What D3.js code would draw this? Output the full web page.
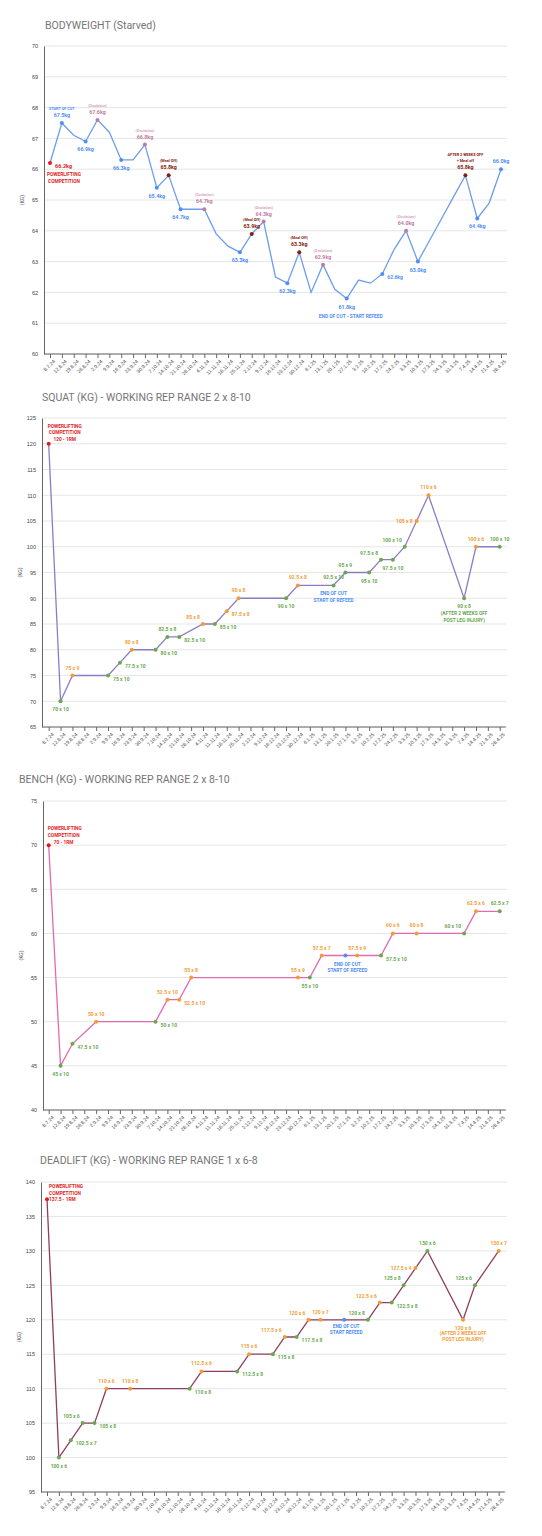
<!DOCTYPE html>
<html><head><meta charset="utf-8">
<script src="https://cdn.jsdelivr.net/npm/d3@7"></script>
<style>body{margin:0;background:#fff;font-family:Roboto,Arial,sans-serif}</style>
</head><body><svg id="c" width="542" height="1536"></svg>
<script>
// dates on the x axis (same weekly categories for every panel)
const dates = ["8.7.24","12.8.24","19.8.24","26.8.24","2.9.24","9.9.24","16.9.24","23.9.24","30.9.24","7.10.24","14.10.24","21.10.24","28.10.24","4.11.24","11.11.24","18.11.24","25.11.24","2.12.24","9.12.24","16.12.24","23.12.24","30.12.24","6.1.25","13.1.25","20.1.25","27.1.25","3.2.25","10.2.25","17.2.25","24.2.25","3.3.25","10.3.25","17.3.25","24.3.25","31.3.25","7.4.25","14.4.25","21.4.25","28.4.25"];

// bodyweight (kg)
const bwValues = [66.2,67.5,67.1,66.9,67.6,67.2,66.3,66.3,66.8,65.4,65.8,64.7,64.7,64.7,63.9,63.5,63.3,63.9,64.3,62.5,62.3,63.3,62.0,62.9,62.1,61.8,62.4,62.3,62.6,63.4,64.0,63.0,63.7,64.4,65.1,65.8,64.4,64.9,66.0];
// point type: r=competition, b=normal, p=ovulation, m=meal off, null=no marker
const bwTypes = ["r","b",null,"b","p",null,"b",null,"p","b","m","b",null,"p",null,null,"b","m","p",null,"b","m",null,"p",null,"b",null,null,"b",null,"p","b",null,null,null,"m","b",null,"b"];
const bwTags = [null,"START OF CUT",null,null,"(Ovulation)",null,null,null,"(Ovulation)",null,"(Meal Off)",null,null,"(Ovulation)",null,null,null,"(Meal Off)","(Ovulation)",null,null,"(Meal Off)",null,"(Ovulation)",null,null,null,null,null,null,"(Ovulation)",null,null,null,null,"AFTER 2 WEEKS OFF|+ Meal off",null,null,null];

// squat
const squatValues = [120,70,75,null,null,75,77.5,80,null,80,82.5,82.5,null,85,85,87.5,90,null,null,null,90,92.5,null,null,92.5,95,null,95,97.5,97.5,100,105,110,null,null,90,100,null,100];
const squatReps = ["1RM",10,9,null,null,10,10,8,null,10,8,10,null,8,10,8,8,null,null,null,10,8,null,null,10,9,null,10,8,10,10,8,6,null,null,8,6,null,10];
const squatTypes = ["r","g","o",null,null,"g","g","o",null,"g","g","g",null,"o","g","o","o",null,null,null,"g","o",null,null,"g","g",null,"g","g","g","g","o","o",null,null,"g","o",null,"g"];
const squatPlace = ["n","b","a",null,null,"r","r","a",null,"r","a","r",null,"al","r","r","a",null,null,null,"b","a",null,null,"a","a",null,"b","al","b","al","l","a",null,null,"b","a",null,"a"];

// bench
const benchValues = [70,45,47.5,null,50,null,null,null,null,50,52.5,52.5,55,null,null,null,null,null,null,null,null,55,55,57.5,null,57.5,57.5,null,57.5,60,null,60,null,null,null,60,62.5,null,62.5];
const benchReps = ["1RM",10,10,null,10,null,null,null,null,10,10,10,8,null,null,null,null,null,null,null,null,9,10,7,null,"",9,null,10,6,null,8,null,null,null,10,6,null,7];
const benchTypes = ["r","g","g",null,"o",null,null,null,null,"g","o","o","o",null,null,null,null,null,null,null,null,"o","g","o",null,"c","o",null,"g","o",null,"o",null,null,null,"g","o",null,"g"];
const benchPlace = ["n","b","r",null,"a",null,null,null,null,"r","a","r","a",null,null,null,null,null,null,null,null,"a","b","a",null,"-","a",null,"r","a",null,"a",null,null,null,"al","a",null,"a"];

// deadlift
const deadValues = [137.5,100,102.5,105,105,110,null,110,null,null,null,null,110,112.5,null,null,112.5,115,null,115,117.5,117.5,120,120,null,120,null,120,122.5,122.5,125,127.5,130,null,null,120,125,null,130];
const deadReps = ["1RM",6,7,6,8,6,null,8,null,null,null,null,8,6,null,null,8,6,null,8,6,8,6,7,null,"",null,8,6,8,8,4,6,null,null,6,6,null,7];
const deadTypes = ["r","g","g","g","g","o",null,"o",null,null,null,null,"g","o",null,null,"g","o",null,"g","o","g","o","o",null,"c",null,"g","o","g","g","o","g",null,null,"o","g",null,"o"];
const deadPlace = ["n","b","r","al","r","a",null,"a",null,null,null,null,"r","a",null,null,"r","a",null,"r","al","r","al","a",null,"-",null,"al","al","r","al","l","a",null,null,"b","al",null,"a"];

const typeColor = {r:"#e31a1c",b:"#4f8ef7",p:"#c27ba0",m:"#85200c",g:"#6aa84f",o:"#f39c34",c:"#4f8ef7"};
const svg = d3.select("#c");

function panel(cfg) {
    const g = svg.append("g");
    const x = d3.scalePoint().domain(dates).range([cfg.x0, cfg.x1]);
    const y = d3.scaleLinear().domain(cfg.domain).range([cfg.bottom, cfg.top]);

    g.append("text").attr("x", cfg.titleX).attr("y", cfg.titleY).attr("fill", "#757575")
        .attr("font-size", 10.5).text(cfg.title);

    // gridlines
    const ticks = d3.range(cfg.domain[0], cfg.domain[1] + 0.001, cfg.step);
    g.selectAll(".grid").data(ticks).join("line")
        .attr("x1", cfg.axisX).attr("x2", 507).attr("y1", d => y(d)).attr("y2", d => y(d))
        .attr("stroke", "#e6e6e6").attr("stroke-width", 1);

    g.append("g").attr("transform", `translate(${cfg.axisX},0)`)
        .call(d3.axisLeft(y).tickValues(ticks).tickSize(0).tickPadding(6))
        .call(a => a.select(".domain").attr("stroke", "#666"))
        .selectAll("text").attr("font-size", 5.5).attr("fill", "#444");

    const xa = g.append("g").attr("transform", `translate(0,${cfg.bottom})`)
        .call(d3.axisBottom(x).tickSize(4).tickPadding(3));
    xa.select(".domain").attr("stroke", "#666").attr("d", `M${cfg.axisX},0H${cfg.x1 + 6}`);
    xa.selectAll("line").attr("stroke", "#666");
    xa.selectAll("text").attr("font-size", 5).attr("fill", "#444")
        .attr("text-anchor", "end").attr("transform", "rotate(-45)").attr("dx", "-2").attr("dy", "2");

    g.append("text").attr("transform", `translate(${cfg.axisX - 20},${(cfg.top + cfg.bottom) / 2}) rotate(-90)`)
        .attr("text-anchor", "middle").attr("font-size", 5).attr("fill", "#444").text("(KG)");

    const pts = cfg.values.map((v, i) => ({v, i, d: dates[i]})).filter(p => p.v != null);
    g.append("path").datum(pts)
        .attr("d", d3.line().x(p => x(p.d)).y(p => y(p.v)))
        .attr("fill", "none").attr("stroke", cfg.lineColor).attr("stroke-width", 1.3);

    const marked = pts.filter(p => cfg.types[p.i]);
    g.selectAll(".dot").data(marked).join("circle")
        .attr("cx", p => x(p.d)).attr("cy", p => y(p.v)).attr("r", 2)
        .attr("fill", p => typeColor[cfg.types[p.i]]);

    marked.forEach(p => {
        const lbl = cfg.label(p);
        if (!lbl) return;
        const px = x(p.d), py = y(p.v), col = typeColor[cfg.types[p.i]];
        const pl = cfg.place ? cfg.place[p.i] : (lbl.place || "a");
        let tx = px, ty = py - 6, anc = "middle";
        if (pl === "b") ty = py + 10;
        if (pl === "r") { tx = px + 5; ty = py + 5; anc = "start"; }
        if (pl === "al") { tx = px - 3; ty = py - 5; anc = "end"; }
        if (pl === "l") { tx = px - 4; ty = py + 2; anc = "end"; }
        if (pl === "n") return;
        g.append("text").attr("x", tx).attr("y", ty).attr("text-anchor", anc)
            .attr("font-size", lbl.size || 5).attr("font-weight", "bold").attr("fill", col).text(lbl.text);
        if (lbl.tag) {
            lbl.tag.split("|").reverse().forEach((t, k) => {
                g.append("text").attr("x", tx).attr("y", ty - 7 - k * 6).attr("text-anchor", anc)
                    .attr("font-size", 3.8).attr("font-weight", "bold")
                    .attr("fill", cfg.types[p.i] === "p" ? "#d5a6bd" : col).text(t);
            });
        }
    });

    // free annotations
    cfg.notes.forEach(n => {
        n.lines.forEach((t, k) => {
            g.append("text").attr("x", x(dates[n.i]) + n.dx).attr("y", y(cfg.values[n.i]) + n.dy + k * 6.5)
                .attr("text-anchor", n.anchor || "middle").attr("font-size", 4.8).attr("font-weight", "bold")
                .attr("fill", n.color).text(t);
        });
    });
}

function liftLabel(vals, reps) {
    return p => (reps[p.i] === "" || reps[p.i] === "1RM") ? null : {text: `${vals[p.i]} x ${reps[p.i]}`};
}

panel({
    title: "BODYWEIGHT (Starved)", titleX: 45, titleY: 29, x0: 50, x1: 501, axisX: 44,
    top: 46, bottom: 354, domain: [60, 70], step: 1, lineColor: "#6d9eeb",
    values: bwValues, types: bwTypes,
    label: p => {
        const t = bwTypes[p.i];
        const below = t === "b" && !bwTags[p.i] && ![28, 38].includes(p.i);
        if (t === "r") return {text: "66.2kg", place: "r", size: 5.5};
        if (p.i === 28) return {text: "62.6kg", place: "r"};
        return {text: bwValues[p.i].toFixed(1) + "kg", place: below ? "b" : "a", tag: bwTags[p.i], size: 5.3};
    },
    notes: [
        {i: 0, lines: ["POWERLIFTING", "COMPETITION"], dx: 14, dy: 13, color: "#e31a1c"},
        {i: 25, lines: ["END OF CUT - START REFEED"], dx: 4, dy: 19, color: "#4f8ef7"}
    ]
});

panel({
    title: "SQUAT (KG) - WORKING REP RANGE 2 x 8-10", titleX: 42, titleY: 401, x0: 48.7, x1: 499.7, axisX: 42,
    top: 418, bottom: 727, domain: [65, 125], step: 5, lineColor: "#8e7cc3",
    values: squatValues, types: squatTypes, place: squatPlace,
    label: liftLabel(squatValues, squatReps),
    notes: [
        {i: 0, lines: ["POWERLIFTING", "COMPETITION", "120 - 1RM"], dx: 16, dy: -16, color: "#e31a1c"},
        {i: 24, lines: ["END OF CUT", "START OF REFEED"], dx: 0, dy: 10, color: "#4f8ef7"},
        {i: 35, lines: ["(AFTER 2 WEEKS OFF", "POST LEG INJURY)"], dx: 0, dy: 17, color: "#6aa84f"}
    ]
});

panel({
    title: "BENCH (KG) - WORKING REP RANGE 2 x 8-10", titleX: 19, titleY: 783, x0: 48.7, x1: 499.7, axisX: 43,
    top: 801, bottom: 1110, domain: [40, 75], step: 5, lineColor: "#e06bb3",
    values: benchValues, types: benchTypes, place: benchPlace,
    label: liftLabel(benchValues, benchReps),
    notes: [
        {i: 0, lines: ["POWERLIFTING", "COMPETITION"], dx: -1, dy: -15, color: "#e31a1c", anchor: "start"},
        {i: 0, lines: ["70 - 1RM"], dx: 5, dy: -1, color: "#e31a1c", anchor: "start"},
        {i: 25, lines: ["END OF CUT", "START OF REFEED"], dx: 2, dy: 10, color: "#4f8ef7"}
    ]
});

panel({
    title: "DEADLIFT (KG) - WORKING REP RANGE 1 x 6-8", titleX: 40, titleY: 1164, x0: 47, x1: 498.7, axisX: 41,
    top: 1182, bottom: 1492, domain: [95, 140], step: 5, lineColor: "#8e3f5f",
    values: deadValues, types: deadTypes, place: deadPlace,
    label: liftLabel(deadValues, deadReps),
    notes: [
        {i: 0, lines: ["POWERLIFTING", "COMPETITION", "137.5 - 1RM"], dx: 2, dy: -11, color: "#e31a1c", anchor: "start"},
        {i: 25, lines: ["END OF CUT", "START REFEED"], dx: 2, dy: 8, color: "#4f8ef7"},
        {i: 35, lines: ["(AFTER 2 WEEKS OFF", "POST LEG INJURY)"], dx: 0, dy: 15, color: "#f39c34"}
    ]
});
</script></body></html>
